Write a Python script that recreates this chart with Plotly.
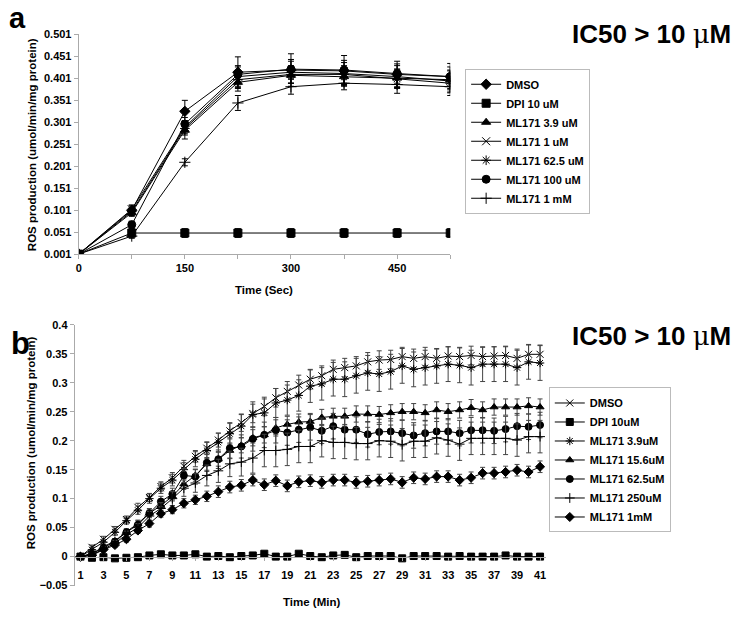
import plotly.graph_objects as go

W, H = 745, 622
def px(x): return x / W
def py(y): return 1 - y / H

# ---------------- Panel a data ----------------
time_a = [0, 75, 150, 225, 300, 375, 450, 525]
names_a = ["DMSO", "DPI 10 uM", "ML171 3.9 uM", "ML171 1 uM", "ML171 62.5 uM", "ML171 100 uM", "ML171 1 mM"]
dmso_a = [0.001, 0.101, 0.326, 0.415, 0.420, 0.418, 0.410, 0.405]
dpi_a = [0.001, 0.049, 0.049, 0.049, 0.049, 0.049, 0.049, 0.049]
ml39_a = [0.001, 0.095, 0.283, 0.392, 0.408, 0.405, 0.402, 0.398]
ml1_a = [0.001, 0.103, 0.290, 0.405, 0.415, 0.412, 0.405, 0.395]
ml625_a = [0.001, 0.098, 0.287, 0.398, 0.410, 0.410, 0.400, 0.390]
ml100_a = [0.001, 0.068, 0.297, 0.410, 0.422, 0.420, 0.412, 0.405]
ml1mm_a = [0.001, 0.042, 0.210, 0.345, 0.382, 0.390, 0.387, 0.382]
err_dmso_a = [0, 0.012, 0.025, 0.035, 0.037, 0.035, 0.030, 0.030]
err_dpi_a = [0, 0.010, 0.010, 0.010, 0.010, 0.010, 0.010, 0.010]
err_ml39_a = [0, 0.008, 0.020, 0.020, 0.018, 0.020, 0.020, 0.020]
err_ml1_a = [0, 0.008, 0.015, 0.022, 0.025, 0.025, 0.025, 0.025]
err_ml625_a = [0, 0.008, 0.015, 0.020, 0.020, 0.020, 0.022, 0.022]
err_ml100_a = [0, 0.008, 0.015, 0.020, 0.022, 0.022, 0.022, 0.022]
err_ml1mm_a = [0, 0.005, 0.008, 0.017, 0.017, 0.015, 0.020, 0.020]
ticks_a = [0, 150, 300, 450]

# ---------------- Panel b data ----------------
time_b = list(range(1, 42))
names_b = ["DMSO", "DPI 10uM", "ML171 3.9uM", "ML171 15.6uM", "ML171 62.5uM", "ML171 250uM", "ML171 1mM"]
dmso_b = [0, 0.016, 0.030, 0.047, 0.064, 0.085, 0.102, 0.121, 0.136, 0.156,
          0.173, 0.187, 0.201, 0.217, 0.231, 0.247, 0.259, 0.274, 0.285, 0.296,
          0.306, 0.312, 0.323, 0.326, 0.329, 0.336, 0.339, 0.340, 0.345, 0.342,
          0.345, 0.342, 0.346, 0.345, 0.347, 0.345, 0.346, 0.347, 0.342, 0.349, 0.349]
dpi_b = [0, -0.002, -0.001, -0.003, -0.002, -0.001, 0.002, 0.004, 0.002, 0.002,
         0.004, 0.000, 0.001, -0.001, 0.001, 0.002, 0.005, 0.000, 0.000, 0.005,
         0.001, -0.001, 0.002, 0.003, -0.001, 0.001, 0.001, 0.001, -0.003, 0.001,
         0.001, 0.001, 0.000, 0.001, 0.000, 0.000, 0.000, 0.002, 0.000, 0.000, 0.000]
ml39_b = [0, 0.012, 0.025, 0.042, 0.062, 0.080, 0.100, 0.118, 0.132, 0.150,
          0.168, 0.183, 0.197, 0.212, 0.225, 0.245, 0.248, 0.265, 0.270, 0.278,
          0.294, 0.298, 0.306, 0.306, 0.312, 0.317, 0.315, 0.319, 0.329, 0.323,
          0.326, 0.329, 0.332, 0.330, 0.326, 0.332, 0.332, 0.332, 0.326, 0.336, 0.334]
ml156_b = [0, 0.005, 0.017, 0.027, 0.043, 0.057, 0.075, 0.088, 0.104, 0.125,
           0.140, 0.160, 0.168, 0.183, 0.192, 0.205, 0.210, 0.222, 0.228, 0.232,
           0.233, 0.240, 0.242, 0.242, 0.246, 0.246, 0.245, 0.248, 0.250, 0.250,
           0.248, 0.253, 0.250, 0.253, 0.257, 0.253, 0.258, 0.258, 0.258, 0.260, 0.258]
ml625_b = [0, 0.005, 0.015, 0.026, 0.042, 0.055, 0.075, 0.095, 0.108, 0.140,
           0.138, 0.162, 0.168, 0.187, 0.190, 0.203, 0.210, 0.218, 0.214, 0.219,
           0.223, 0.217, 0.225, 0.219, 0.219, 0.211, 0.215, 0.216, 0.213, 0.209,
           0.213, 0.216, 0.216, 0.213, 0.218, 0.218, 0.217, 0.220, 0.225, 0.224, 0.227]
ml250_b = [0, 0.003, 0.013, 0.023, 0.038, 0.050, 0.070, 0.083, 0.100, 0.118,
           0.127, 0.140, 0.148, 0.160, 0.163, 0.170, 0.183, 0.183, 0.185, 0.190,
           0.190, 0.200, 0.197, 0.197, 0.195, 0.195, 0.200, 0.199, 0.193, 0.199,
           0.199, 0.205, 0.201, 0.194, 0.204, 0.204, 0.204, 0.204, 0.201, 0.207, 0.207]
ml1mm_b = [0, 0.002, 0.012, 0.020, 0.030, 0.045, 0.057, 0.074, 0.081, 0.092,
           0.098, 0.104, 0.112, 0.120, 0.123, 0.132, 0.124, 0.131, 0.122, 0.129,
           0.131, 0.128, 0.132, 0.132, 0.128, 0.130, 0.132, 0.134, 0.128, 0.136,
           0.134, 0.138, 0.138, 0.132, 0.136, 0.144, 0.144, 0.146, 0.149, 0.146, 0.155]
err_dmso_b = [0.002, 0.004, 0.005, 0.005, 0.006, 0.007, 0.007, 0.008, 0.009, 0.010,
              0.010, 0.011, 0.012, 0.014, 0.015, 0.016, 0.016, 0.016, 0.017, 0.017,
              0.017, 0.017, 0.016, 0.016, 0.016, 0.016, 0.016, 0.016, 0.016, 0.016,
              0.016, 0.016, 0.016, 0.016, 0.016, 0.016, 0.016, 0.016, 0.016, 0.016, 0.016]
err_dpi_b = [0.001] * 41
err_ml39_b = [0.002, 0.004, 0.005, 0.005, 0.006, 0.007, 0.008, 0.009, 0.010, 0.012,
              0.013, 0.014, 0.016, 0.018, 0.020, 0.022, 0.024, 0.025, 0.026, 0.027,
              0.028, 0.028, 0.029, 0.030, 0.030, 0.030, 0.030, 0.030, 0.030, 0.030,
              0.030, 0.030, 0.030, 0.030, 0.030, 0.030, 0.030, 0.030, 0.030, 0.030, 0.030]
err_ml156_b = [0.002, 0.003, 0.004, 0.004, 0.005, 0.006, 0.007, 0.008, 0.008, 0.009,
               0.010, 0.011, 0.012, 0.013, 0.013, 0.014, 0.014, 0.014, 0.014, 0.014,
               0.014, 0.014, 0.014, 0.014, 0.014, 0.014, 0.014, 0.014, 0.014, 0.014,
               0.014, 0.014, 0.014, 0.014, 0.014, 0.014, 0.014, 0.014, 0.014, 0.014, 0.014]
err_ml625_b = [0.002, 0.003, 0.004, 0.005, 0.006, 0.007, 0.008, 0.009, 0.010, 0.012,
               0.013, 0.015, 0.016, 0.018, 0.020, 0.021, 0.022, 0.022, 0.022, 0.022,
               0.022, 0.022, 0.022, 0.022, 0.022, 0.022, 0.022, 0.022, 0.022, 0.022,
               0.022, 0.022, 0.022, 0.022, 0.022, 0.022, 0.022, 0.022, 0.022, 0.022, 0.022]
err_ml250_b = [0.002, 0.003, 0.004, 0.005, 0.006, 0.007, 0.008, 0.010, 0.012, 0.014,
               0.016, 0.018, 0.020, 0.022, 0.024, 0.026, 0.028, 0.028, 0.028, 0.028,
               0.028, 0.028, 0.028, 0.028, 0.028, 0.028, 0.028, 0.028, 0.028, 0.028,
               0.028, 0.028, 0.028, 0.028, 0.028, 0.028, 0.028, 0.028, 0.028, 0.028, 0.028]
err_ml1mm_b = [0.002, 0.003, 0.004, 0.004, 0.005, 0.005, 0.006, 0.006, 0.007, 0.008,
               0.008, 0.009, 0.010, 0.010, 0.010, 0.010, 0.010, 0.010, 0.010, 0.010,
               0.010, 0.010, 0.010, 0.010, 0.010, 0.010, 0.010, 0.010, 0.010, 0.010,
               0.010, 0.010, 0.010, 0.010, 0.010, 0.010, 0.010, 0.010, 0.010, 0.010, 0.010]
ticks_b = list(range(1, 42, 2))

FONT = "Liberation Sans, Arial, sans-serif"

fig = go.Figure()

series_a = [
    (names_a[0], dmso_a, err_dmso_a, "diamond"),
    (names_a[1], dpi_a, err_dpi_a, "square"),
    (names_a[2], ml39_a, err_ml39_a, "triangle-up"),
    (names_a[3], ml1_a, err_ml1_a, "x-thin-open"),
    (names_a[4], ml625_a, err_ml625_a, "asterisk-open"),
    (names_a[5], ml100_a, err_ml100_a, "circle"),
    (names_a[6], ml1mm_a, err_ml1mm_a, "cross-thin-open"),
]
for name, vals, err, sym in series_a:
    fig.add_trace(go.Scatter(
        x=time_a, y=vals, name=name, mode="lines+markers",
        line=dict(color="black", width=1),
        marker=dict(symbol=sym, size=8, color="black",
                    line=dict(color="black", width=1)),
        error_y=dict(type="data", array=err, color="black", thickness=1, width=3),
        xaxis="x", yaxis="y", legend="legend"))

series_b = [
    (names_b[0], dmso_b, err_dmso_b, "x-thin-open"),
    (names_b[1], dpi_b, err_dpi_b, "square"),
    (names_b[2], ml39_b, err_ml39_b, "asterisk-open"),
    (names_b[3], ml156_b, err_ml156_b, "triangle-up"),
    (names_b[4], ml625_b, err_ml625_b, "circle"),
    (names_b[5], ml250_b, err_ml250_b, "cross-thin-open"),
    (names_b[6], ml1mm_b, err_ml1mm_b, "diamond"),
]
for name, vals, err, sym in series_b:
    fig.add_trace(go.Scatter(
        x=time_b, y=vals, name=name, mode="lines+markers",
        line=dict(color="black", width=1),
        marker=dict(symbol=sym, size=7, color="black",
                    line=dict(color="black", width=1)),
        error_y=dict(type="data", array=err, color="#444", thickness=1, width=2.5),
        xaxis="x2", yaxis="y2", legend="legend2"))

yb_lo, yb_hi = -0.05, 0.4
yb_dom = [py(591), py(325)]
xb_pos = yb_dom[0] + (0 - yb_lo) / (yb_hi - yb_lo) * (yb_dom[1] - yb_dom[0])

axis_common = dict(showgrid=False, zeroline=False, showline=True, linecolor="#aaaaaa",
                   linewidth=1, tickfont=dict(family=FONT, size=11, color="black", weight="bold"))

fig.update_layout(
    width=W, height=H,
    margin=dict(l=0, r=0, t=0, b=0),
    paper_bgcolor="white", plot_bgcolor="white",
    font=dict(family=FONT, size=11, color="black", weight="bold"),
    xaxis=dict(domain=[px(76), px(449)], range=[0, 525], anchor="y",
               tickvals=ticks_a, ticks="outside", ticklen=4, tickcolor="#aaaaaa",
               minor=dict(dtick=75, tick0=0, ticks="outside", ticklen=4, tickcolor="#aaaaaa"),
               **axis_common),
    yaxis=dict(domain=[py(253), py(29)], range=[0.001, 0.501], anchor="x",
               tick0=0.001, dtick=0.05, tickformat=".3f", ticks="outside", ticklen=4,
               tickcolor="#aaaaaa", **axis_common),
    xaxis2=dict(domain=[px(72), px(545)], range=[0.5, 41.5], anchor="free", position=xb_pos,
                tickvals=ticks_b, ticks="outside", ticklen=3, tickcolor="#aaaaaa",
                ticklabelstandoff=5, **axis_common),
    yaxis2=dict(domain=yb_dom, range=[yb_lo, yb_hi], anchor="x2",
                dtick=0.05, ticks="outside", ticklen=4, tickcolor="#aaaaaa",
                **axis_common),
    legend=dict(x=px(464), y=py(64), xanchor="left", yanchor="top",
                bordercolor="#bbbbbb", borderwidth=1, bgcolor="white",
                font=dict(family=FONT, size=11, color="black", weight="bold"),
                itemwidth=30, tracegroupgap=0),
    legend2=dict(x=px(548), y=py(389), xanchor="left", yanchor="top",
                 bordercolor="#bbbbbb", borderwidth=1, bgcolor="white",
                 font=dict(family=FONT, size=11, color="black", weight="bold"),
                 itemwidth=30, tracegroupgap=0),
    showlegend=True,
)

title_txt = "IC50 &gt; 10 <span style='font-family:DejaVu Serif;font-weight:normal'>μ</span>M"
annotations = [
    dict(text="a", x=px(4), y=py(-6), xanchor="left", yanchor="top",
         font=dict(family=FONT, size=29, weight="bold")),
    dict(text="b", x=px(6), y=py(324), xanchor="left", yanchor="top",
         font=dict(family=FONT, size=31, weight="bold")),
    dict(text=title_txt, x=px(569), y=py(29), xanchor="left", yanchor="middle",
         font=dict(family=FONT, size=26, weight="bold")),
    dict(text=title_txt, x=px(569), y=py(337), xanchor="left", yanchor="middle",
         font=dict(family=FONT, size=26, weight="bold")),
    dict(text="ROS production (umol/min/mg protein)", x=px(29), y=py(141),
         textangle=-90, xanchor="center", yanchor="middle",
         font=dict(family=FONT, size=11.5, weight="bold")),
    dict(text="ROS production (umol/min/mg protein)", x=px(29), y=py(445),
         textangle=-90, xanchor="center", yanchor="middle",
         font=dict(family=FONT, size=11.5, weight="bold")),
    dict(text="Time (Sec)", x=px(262), y=py(290), xanchor="center", yanchor="middle",
         font=dict(family=FONT, size=11.5, weight="bold")),
    dict(text="Time (Min)", x=px(310), y=py(608), xanchor="center", yanchor="middle",
         font=dict(family=FONT, size=11.5, weight="bold")),
]
for a in annotations:
    a.update(xref="paper", yref="paper", showarrow=False)
fig.update_layout(annotations=annotations)

fig.write_html("out.html", config={"displayModeBar": False},
               post_script="document.body.style.margin='0';document.body.style.padding='0';")
